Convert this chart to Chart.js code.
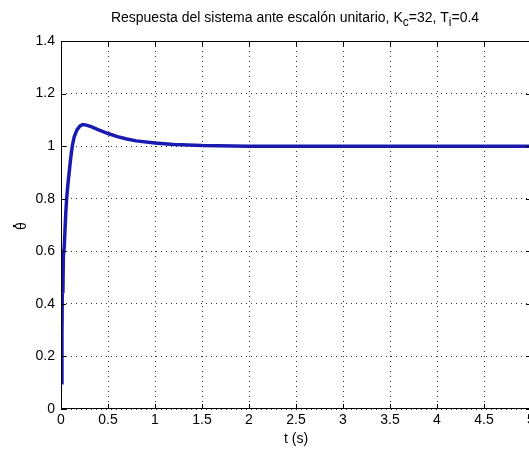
<!DOCTYPE html>
<html>
<head>
<meta charset="utf-8">
<script src="https://cdn.jsdelivr.net/npm/chart.js@4"></script>
<style>
  html, body { margin: 0; padding: 0; background: #fff; overflow: hidden; }
  canvas { display: block; }
</style>
</head>
<body>
<canvas id="chart" width="600" height="449"></canvas>
<script>
// step response
const tValues = [0, 0.01, 0.015, 0.02, 0.025, 0.035, 0.05, 0.06, 0.075, 0.09, 0.105, 0.12, 0.14, 0.17, 0.2, 0.23, 0.27, 0.32, 0.4, 0.5, 0.6, 0.7, 0.8, 1.0, 1.2, 1.5, 2, 3, 4, 5];
const thetaDot = [0.1, 0.28, 0.5, 0.44, 0.58, 0.62, 0.74, 0.8, 0.86, 0.91, 0.96, 1.0, 1.035, 1.062, 1.076, 1.082, 1.08, 1.074, 1.062, 1.048, 1.036, 1.027, 1.02, 1.012, 1.006, 1.002, 1.0, 1.0, 1.0, 1.0];

const xTicks = [0, 0.5, 1, 1.5, 2, 2.5, 3, 3.5, 4, 4.5, 5];
const yTicks = [0, 0.2, 0.4, 0.6, 0.8, 1, 1.2, 1.4];

const FONT = 'Liberation Sans, Arial, sans-serif';

// title with subscripts, y label, axes box and inward ticks (matlab look)
const matlabLook = {
  id: 'matlabLook',
  afterDraw(chart) {
    const ctx = chart.ctx;
    const a = chart.chartArea;
    const xs = chart.scales.x, ys = chart.scales.y;
    ctx.save();
    ctx.strokeStyle = '#000';
    ctx.lineWidth = 1;
    ctx.strokeRect(a.left + 0.5, a.top + 0.5, a.right - a.left - 1, a.bottom - a.top - 1);
    ctx.beginPath();
    xTicks.forEach(v => {
      const px = Math.round(xs.getPixelForValue(v)) + 0.5;
      ctx.moveTo(px, a.bottom); ctx.lineTo(px, a.bottom - 5);
      ctx.moveTo(px, a.top); ctx.lineTo(px, a.top + 5);
    });
    yTicks.forEach(v => {
      const py = Math.round(ys.getPixelForValue(v)) + 0.5;
      ctx.moveTo(a.left, py); ctx.lineTo(a.left + 5, py);
      ctx.moveTo(a.right, py); ctx.lineTo(a.right - 5, py);
    });
    ctx.stroke();

    ctx.fillStyle = '#000';
    // y label: dot to the left, theta turned on its side
    ctx.beginPath();
    ctx.arc(14, 226, 1.2, 0, Math.PI * 2);
    ctx.fill();
    ctx.save();
    ctx.setTransform(0, -1, 1, 0, 22, 226);
    ctx.font = '14px ' + FONT;
    ctx.textAlign = 'center';
    ctx.textBaseline = 'middle';
    ctx.fillText('\u03b8', 0, 0);
    ctx.restore();

    // title
    const parts = [
      ['Respuesta del sistema ante escal\u00f3n unitario, K', 0],
      ['c', 1],
      ['=32, T', 0],
      ['i', 1],
      ['=0.4', 0]
    ];
    ctx.textBaseline = 'alphabetic';
    ctx.textAlign = 'left';
    let total = 0;
    parts.forEach(p => {
      ctx.font = (p[1] ? 12 : 14) + 'px ' + FONT;
      total += ctx.measureText(p[0]).width;
    });
    let x = 295 - total / 2;
    parts.forEach(p => {
      ctx.font = (p[1] ? 12 : 14) + 'px ' + FONT;
      ctx.fillText(p[0], x, p[1] ? 26 : 22);
      x += ctx.measureText(p[0]).width;
    });
    ctx.restore();
  }
};

new Chart(document.getElementById('chart').getContext('2d'), {
  type: 'line',
  data: {
    datasets: [{
      data: tValues.map((t, i) => ({ x: t, y: thetaDot[i] })),
      borderColor: '#1a1ab0',
      borderWidth: 3.5,
      pointRadius: 0,
      tension: 0,
      fill: false
    }]
  },
  options: {
    responsive: false,
    animation: false,
    layout: { padding: { top: 41, right: 69, bottom: 0, left: 0 } },
    plugins: { legend: { display: false }, title: { display: false }, tooltip: { enabled: false } },
    scales: {
      x: {
        type: 'linear',
        min: 0, max: 5,
        afterBuildTicks: s => { s.ticks = xTicks.map(v => ({ value: v })); },
        afterFit: s => { s.height = 40; },
        ticks: { color: '#000', font: { family: FONT, size: 14 }, padding: 3, maxRotation: 0, callback: v => String(v) },
        grid: { color: 'rgba(0,0,0,0.8)', drawTicks: false },
        border: { display: false, dash: [1, 4] },
        title: { display: true, text: 't (s)', color: '#000', font: { family: FONT, size: 14 }, padding: { top: 0, bottom: 1 } }
      },
      y: {
        min: 0, max: 1.4,
        afterBuildTicks: s => { s.ticks = yTicks.map(v => ({ value: v })); },
        afterFit: s => { s.width = 61; },
        ticks: { color: '#000', font: { family: FONT, size: 14 }, padding: 6, callback: v => String(v) },
        grid: { color: 'rgba(0,0,0,0.8)', drawTicks: false },
        border: { display: false, dash: [1, 4] },
        title: { display: false }
      }
    }
  },
  plugins: [matlabLook]
});
</script>
</body>
</html>
